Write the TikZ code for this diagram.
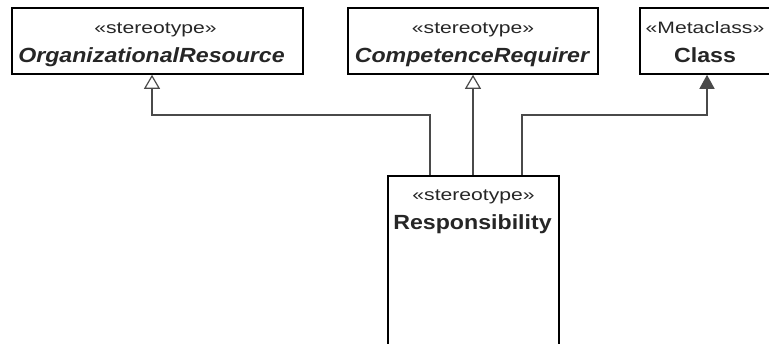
\documentclass[tikz,border=0pt]{standalone}
\usepackage{fontspec}
\setmainfont{Liberation Sans}
\newfontfamily\stfont[FakeStretch=1.28]{Liberation Sans}
\newfontfamily\nmfont[FakeStretch=1.13]{Liberation Sans}
\usetikzlibrary{arrows.meta,calc}
\definecolor{linec}{HTML}{4A4A4A}
\begin{document}
\begin{tikzpicture}[x=1pt,y=-1pt,
  box/.style={draw=black,line width=1.6pt,fill=white,inner sep=0pt},
  stxt/.style={anchor=base,inner sep=0pt,font=\stfont\fontsize{16.5}{18}\selectfont,text=black!85},
  ntxt/.style={anchor=base,inner sep=0pt,font=\nmfont\bfseries\fontsize{20.5}{23}\selectfont,text=black!85},
  gen/.style={draw=linec,line width=1.5pt,-{Triangle[open,length=14pt,width=16pt,line width=1.2pt]}},
  assoc/.style={draw=linec,line width=1.5pt,-{Triangle[length=14pt,width=15pt]}}]
\useasboundingbox (0,0) rectangle (769,343);
\clip (0,0) rectangle (769,343);
\fill[white] (0,0) rectangle (769,343);
% boxes
\node[box,minimum width=291pt,minimum height=66pt] (org) at (157.5,41) {};
\node[box,minimum width=250pt,minimum height=66pt] (comp) at (473,41) {};
\node[box,minimum width=130pt,minimum height=66pt] (cls) at (705,41) {};
\node[box,minimum width=171pt,minimum height=224pt] (resp) at (473.5,288) {};
% texts
\node[stxt] (orgs) at ($(org.north)+(-2,26)$) {«stereotype»};
\node[ntxt] (orgn) at ($(org.north)+(-6,55.5)$) {\itshape OrganizationalResource};
\node[stxt] (comps) at ($(comp.north)+(0,26)$) {«stereotype»};
\node[ntxt] (compn) at ($(comp.north)+(-1,55.5)$) {\itshape CompetenceRequirer};
\node[stxt] (clss) at ($(cls.north)+(0,26)$) {«Metaclass»};
\node[ntxt] (clsn) at ($(cls.north)+(0,55.5)$) {Class};
\node[stxt] (resps) at ($(resp.north)+(0,25)$) {«stereotype»};
\node[ntxt] (respn) at ($(resp.north)+(-1,54.5)$) {Responsibility};
% connector points
\coordinate (r1) at ($(resp.north west)+(43,0)$);
\coordinate (r3) at ($(resp.north west)+(135,0)$);
\coordinate (orgtip) at ($(org.south)+(-5.5,0)$);
\coordinate (clstip) at ($(cls.south)+(2,0)$);
\coordinate (bend) at (0,115);
% connectors
\draw[gen] (r1) -- (r1 |- bend) -| (orgtip);
\draw[gen] (resp.north -| comp.south) -- (comp.south);
\draw[assoc] (r3) -- (r3 |- bend) -| (clstip);
\end{tikzpicture}
\end{document}
